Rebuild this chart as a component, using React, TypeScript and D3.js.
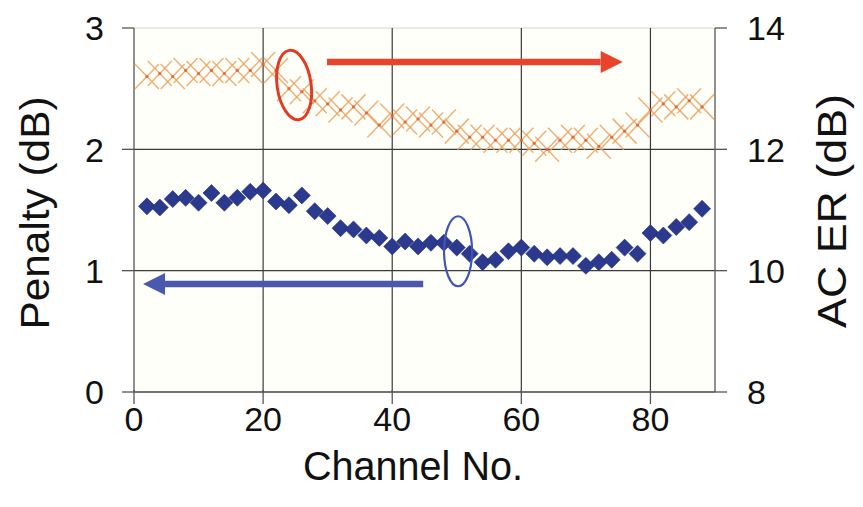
import React from "react";
import * as d3 from "d3";

// Channel numbers shared by both series
const channels = [
  2, 4, 6, 8, 10, 12, 14, 16, 18, 20, 22, 24, 26, 28, 30, 32, 34, 36, 38, 40, 42, 44,
  46, 48, 50, 52, 54, 56, 58, 60, 62, 64, 66, 68, 70, 72, 74, 76, 78, 80, 82, 84, 86, 88,
];

// Penalty (dB), left axis
const penalty = [
  1.53, 1.52, 1.59, 1.6, 1.56, 1.64, 1.56, 1.6, 1.65, 1.66, 1.57, 1.54, 1.62, 1.49, 1.45,
  1.35, 1.34, 1.29, 1.27, 1.2, 1.24, 1.2, 1.23, 1.23, 1.19, 1.14, 1.07, 1.09, 1.16, 1.19,
  1.14, 1.11, 1.12, 1.12, 1.04, 1.07, 1.09, 1.19, 1.14, 1.31, 1.29, 1.36, 1.4, 1.51,
];

// AC extinction ratio (dB), right axis
const acER = [
  13.2, 13.25, 13.2, 13.3, 13.25, 13.3, 13.25, 13.3, 13.3, 13.4, 13.3, 13.0, 12.95, 12.8,
  12.75, 12.65, 12.7, 12.6, 12.4, 12.55, 12.45, 12.5, 12.4, 12.45, 12.3, 12.2, 12.2, 12.15,
  12.15, 12.15, 12.1, 12.0, 12.15, 12.2, 12.15, 12.05, 12.2, 12.3, 12.4, 12.65, 12.75, 12.7,
  12.8, 12.7,
];

const xTicks = [0, 20, 40, 60, 80];
const leftTicks = [0, 1, 2, 3];
const rightTicks = [8, 10, 12, 14];

const W = 863;
const H = 507;

const x = d3.scaleLinear().domain([0, 90]).range([134, 715]);
const yL = d3.scaleLinear().domain([0, 3]).range([392, 28]);
const yR = d3.scaleLinear().domain([8, 14]).range([392, 28]);

const FONT = "'Liberation Sans', Arial, Helvetica, sans-serif";

function Arrow({ x1, x2, y, color }: { x1: number; x2: number; y: number; color: string }) {
  const dir = Math.sign(x2 - x1);
  const headLen = 22;
  const headHalf = 11;
  const baseX = x2 - dir * headLen;
  return (
    <g>
      <line x1={x1} y1={y} x2={baseX} y2={y} stroke={color} strokeWidth={6.5} />
      <path d={`M${x2},${y} L${baseX},${y - headHalf} L${baseX},${y + headHalf} Z`} fill={color} />
    </g>
  );
}

export default function App() {
  const [x0, x1] = x.range();
  const [yBottom, yTop] = yL.range();
  const diamond = 8.5;
  const crossW = 12;
  const crossH = 12.5;

  return (
    <svg
      width={W}
      height={H}
      style={{ position: "absolute", left: 0, top: 0, background: "#ffffff" }}
      fontFamily={FONT}
    >
      {/* plot area */}
      <rect x={x0} y={yTop} width={x1 - x0} height={yBottom - yTop} fill="#fffffa" />
      <line x1={x0} x2={x1} y1={yTop} y2={yTop} stroke="#d4d4cc" strokeWidth={1} />

      {/* gridlines */}
      {[1, 2].map((v) => (
        <line key={"hg" + v} x1={x0} x2={x1} y1={yL(v)} y2={yL(v)} stroke="#3a3a3a" strokeWidth={1.2} />
      ))}
      {xTicks.filter((v) => v > 0).map((v) => (
        <line key={"vg" + v} x1={x(v)} x2={x(v)} y1={yTop} y2={yBottom} stroke="#3a3a3a" strokeWidth={1.2} />
      ))}

      {/* axes */}
      <line x1={x0} x2={x0} y1={yTop} y2={yBottom} stroke="#555" strokeWidth={1.3} />
      <line x1={x1} x2={x1} y1={yTop} y2={yBottom} stroke="#555" strokeWidth={1.3} />
      <line x1={x0} x2={x1} y1={yBottom} y2={yBottom} stroke="#444" strokeWidth={1.3} />

      {leftTicks.map((v) => (
        <g key={"lt" + v}>
          <line x1={x0 - 12} x2={x0} y1={yL(v)} y2={yL(v)} stroke="#555" strokeWidth={1.3} />
          <text x={104} y={yL(v)} dy="0.36em" textAnchor="end" fontSize={34} fill="#111">
            {v}
          </text>
        </g>
      ))}
      {rightTicks.map((v) => (
        <g key={"rt" + v}>
          <line x1={x1} x2={x1 + 12} y1={yR(v)} y2={yR(v)} stroke="#555" strokeWidth={1.3} />
          <text x={747} y={yR(v)} dy="0.36em" textAnchor="start" fontSize={34} fill="#111">
            {v}
          </text>
        </g>
      ))}
      {xTicks.map((v) => (
        <g key={"xt" + v}>
          <line x1={x(v)} x2={x(v)} y1={yBottom - 2} y2={yBottom + 12} stroke="#555" strokeWidth={1.3} />
          <text x={x(v)} y={419} dy="0.36em" textAnchor="middle" fontSize={34} fill="#111">
            {v}
          </text>
        </g>
      ))}

      {/* axis titles */}
      <text
        x={0}
        y={0}
        transform={`translate(49, 213) rotate(-90)`}
        textAnchor="middle"
        fontSize={40}
        textLength={233}
        lengthAdjust="spacingAndGlyphs"
        fill="#111"
      >
        Penalty (dB)
      </text>
      <text
        x={0}
        y={0}
        transform={`translate(846, 211) rotate(-90)`}
        textAnchor="middle"
        fontSize={40}
        textLength={234}
        lengthAdjust="spacingAndGlyphs"
        fill="#111"
      >
        AC ER (dB)
      </text>
      <text
        x={413}
        y={480}
        textAnchor="middle"
        fontSize={40}
        textLength={220}
        lengthAdjust="spacingAndGlyphs"
        fill="#111"
      >
        Channel No.
      </text>

      {/* AC ER series: crosses */}
      <g stroke="#eaa462" strokeWidth={1.5} strokeOpacity={0.85} fill="none">
        {channels.map((c, i) => {
          const cx = x(c);
          const cy = yR(acER[i]);
          return (
            <path
              key={"x" + i}
              d={`M${cx - crossW},${cy - crossH} L${cx + crossW},${cy + crossH} M${cx - crossW},${cy + crossH} L${cx + crossW},${cy - crossH}`}
            />
          );
        })}
      </g>
      <g fill="#d9583a" fillOpacity={0.8}>
        {channels.map((c, i) => (
          <circle key={"xc" + i} cx={x(c)} cy={yR(acER[i])} r={1.6} />
        ))}
      </g>

      {/* Penalty series: diamonds */}
      <g fill="#2b3a8f" stroke="#1e2a70" strokeWidth={0.6}>
        {channels.map((c, i) => {
          const cx = x(c);
          const cy = yL(penalty[i]);
          return (
            <path
              key={"d" + i}
              d={`M${cx},${cy - diamond} L${cx + diamond},${cy} L${cx},${cy + diamond} L${cx - diamond},${cy} Z`}
            />
          );
        })}
      </g>

      {/* series indicators */}
      <ellipse
        cx={x(24.8)}
        cy={yR(13.06)}
        rx={17}
        ry={35}
        fill="none"
        stroke="#e23b22"
        strokeWidth={3}
        transform={`rotate(-8, ${x(24.8)}, ${yR(13.06)})`}
      />
      <Arrow x1={x(29.9)} x2={x(75.7)} y={yR(13.44)} color="#e8432b" />

      <ellipse
        cx={x(50.2)}
        cy={yL(1.16)}
        rx={14}
        ry={35}
        fill="none"
        stroke="#4355b3"
        strokeWidth={2.2}
      />
      <Arrow x1={x(44.8)} x2={x(1.4)} y={yL(0.89)} color="#4a59ad" />
    </svg>
  );
}
